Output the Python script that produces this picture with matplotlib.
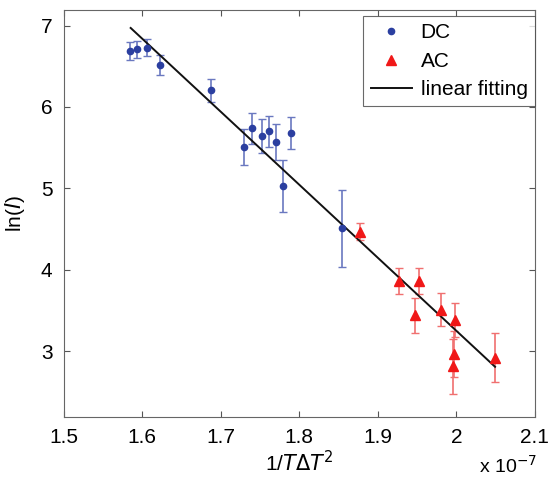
import numpy as np
import matplotlib.pyplot as plt
from matplotlib.lines import Line2D

plt.rcParams['font.family'] = ['Liberation Sans', 'DejaVu Sans']

# x in units of 1e-7
dc_x = [1.585, 1.593, 1.606, 1.623, 1.688, 1.730, 1.740, 1.752, 1.762, 1.770, 1.779, 1.789, 1.855]
dc_y = [6.685, 6.706, 6.73, 6.513, 6.207, 5.509, 5.741, 5.647, 5.70, 5.574, 5.034, 5.68, 4.51]
dc_err = [0.108, 0.10, 0.10, 0.12, 0.14, 0.22, 0.19, 0.21, 0.19, 0.22, 0.32, 0.20, 0.47]

ac_x = [1.878, 1.927, 1.953, 1.947, 1.980, 1.999, 1.997, 1.9955, 2.049]
ac_y = [4.471, 3.858, 3.866, 3.441, 3.511, 3.389, 2.968, 2.816, 2.919]
ac_err = [0.11, 0.16, 0.16, 0.21, 0.20, 0.21, 0.28, 0.34, 0.30]

fit_x = [1.5853, 2.0494]
fit_y = [6.97, 2.81]

dc_col = '#2b3fa0'
ac_col = '#f01818'

fig = plt.figure(figsize=(5.51, 4.78), dpi=100)
ax = fig.add_axes([0.1156, 0.127, 0.855, 0.852])

ax.errorbar(dc_x, dc_y, yerr=dc_err, fmt='o', color=dc_col, ms=4.5,
            ecolor='#6a78c0', elinewidth=1.2, capsize=3, capthick=1)
ax.errorbar(ac_x, ac_y, yerr=ac_err, fmt='^', color=ac_col, ms=7,
            ecolor='#f07070', elinewidth=1.2, capsize=3, capthick=1)
ax.plot(fit_x, fit_y, color='#111111', lw=1.4)

ax.set_xlim(1.5, 2.1)
ax.set_ylim(2.19, 7.19)
ax.set_xticks([1.5, 1.6, 1.7, 1.8, 1.9, 2.0, 2.1])
ax.set_xticklabels(['1.5', '1.6', '1.7', '1.8', '1.9', '2', '2.1'])
ax.set_yticks([3, 4, 5, 6, 7])
ax.tick_params(direction='in', top=True, right=True, labelsize=15, length=4,
               color='#555555', pad=8)
for s in ax.spines.values():
    s.set_color('#666666')

ax.set_xlabel('1/$T\\Delta T^2$', fontsize=15, labelpad=2)
ax.set_ylabel('ln($I$)', fontsize=15, labelpad=10)
fig.text(0.975, 0.01, 'x 10$^{-7}$', fontsize=14, ha='right')

handles = [
    Line2D([], [], ls='none', marker='o', color=dc_col, ms=4.5),
    Line2D([], [], ls='none', marker='^', color=ac_col, ms=7),
    Line2D([], [], color='#111111', lw=1.4),
]
labels = ['DC', 'AC', 'linear fitting']
leg = ax.legend(handles, labels, loc='upper right', fontsize=15, frameon=True,
                fancybox=False, edgecolor='#444444', borderaxespad=0,
                handlelength=2.0, handletextpad=0.4, labelspacing=0.45,
                borderpad=0.35, bbox_to_anchor=(1.0, 0.985))
leg.get_frame().set_linewidth(0.8)

fig.savefig('out.png', dpi=100)
